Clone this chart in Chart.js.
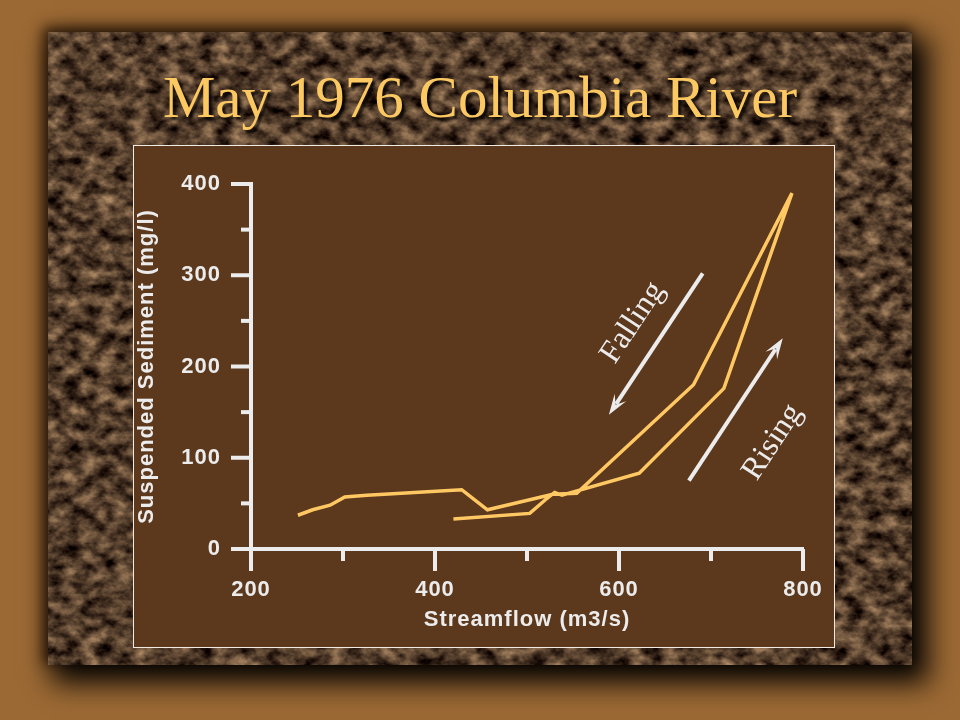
<!DOCTYPE html>
<html lang="en">
<head>
<meta charset="utf-8">
<title>May 1976 Columbia River</title>
<script src="https://cdn.jsdelivr.net/npm/chart.js@4.4.1/dist/chart.umd.min.js"></script>
<style>
  html, body { margin: 0; padding: 0; }
  body {
    width: 960px; height: 720px; position: relative; overflow: hidden;
    background: #9b6934;
  }
  #marble {
    position: absolute; left: 48px; top: 32px; width: 864px; height: 633px;
    background-color: #4c3523;
    box-shadow: 10px 12px 26px 6px rgba(0,0,0,0.95), -3px -3px 12px 2px rgba(40,20,5,0.8);
  }
  #title {
    position: absolute; left: 0; width: 960px; top: 68px; text-align: center;
    font-family: "Liberation Serif", "Times New Roman", serif; font-size: 59px;
    color: #fcc862; text-shadow: 3px 3px 3px rgba(0,0,0,0.9);
    line-height: 1; white-space: nowrap;
  }
  #panel {
    position: absolute; left: 133px; top: 145px; width: 700px; height: 501px;
    border: 1px solid #f2ebe3; background: #5c381d;
  }
</style>
</head>
<body>
<div id="marble"></div>
<div id="title">May 1976 Columbia River</div>
<div id="panel"><canvas id="grafico" width="700" height="501"></canvas></div>
<script>
// Datos (caudal y sedimento, en orden cronologico)
const flow     = [420, 503, 520, 530, 538, 622, 714, 788, 681, 554, 528, 457, 429, 326, 302, 286, 267, 251];
const sediment = [ 33,  39,  54,  62,  59,  83, 176, 390, 180,  61,  60,  43,  65,  59,  57,  48,  43,  37];

const xTicks  = [200, 300, 400, 500, 600, 700, 800];
const xLabels = ['200', '', '400', '', '600', '', '800'];
const yTicks  = [0, 50, 100, 150, 200, 250, 300, 350, 400];
const yLabels = ['0', '', '100', '', '200', '', '300', '', '400'];

// textura de marmol (filtro SVG, sin datos)
const svg = "<svg xmlns='http://www.w3.org/2000/svg' width='864' height='633'>" +
  "<filter id='n' color-interpolation-filters='sRGB'><feTurbulence type='fractalNoise' baseFrequency='0.06 0.08' numOctaves='4' seed='7'/>" +
  "<feColorMatrix values='0.95 0 0 0 -0.15  0.8 0 0 0 -0.16  0.6 0 0 0 -0.13  0 0 0 0 1'/></filter>" +
  "<rect width='100%' height='100%' filter='url(%23n)'/></svg>";
document.getElementById('marble').style.backgroundImage = 'url("data:image/svg+xml;utf8,' + svg + '")';

const blanco = '#ececec';
const fuenteEjes = { family: "'Liberation Sans', Arial, sans-serif", weight: 'bold', size: 22 };

// marcas de los ejes (largas con etiqueta, cortas sin ella)
const marcasEjes = {
    id: 'marcasEjes',
    beforeDraw(chart) {
        chart.ctx.letterSpacing = '1px';
    },
    afterDraw(chart) {
        const { ctx, scales: { x, y } } = chart;
        ctx.save();
        ctx.strokeStyle = blanco;
        ctx.lineWidth = 4;
        xTicks.forEach((v, i) => {
            const px = x.getPixelForValue(v);
            const len = xLabels[i] ? 22 : 12;
            ctx.beginPath();
            ctx.moveTo(px, y.bottom);
            ctx.lineTo(px, y.bottom + len);
            ctx.stroke();
        });
        yTicks.forEach((v, i) => {
            const py = y.getPixelForValue(v);
            const len = yLabels[i] ? 20 : 10;
            ctx.beginPath();
            ctx.moveTo(x.left, py);
            ctx.lineTo(x.left - len, py);
            ctx.stroke();
        });
        ctx.restore();
    }
};

// flechas y textos "Falling" / "Rising" en coordenadas de datos
const anotaciones = [
    { from: [691, 302], to: [589, 147], text: 'Falling', at: [615, 248] },
    { from: [676, 75],  to: [778, 231], text: 'Rising',  at: [767, 117] }
];

const flechas = {
    id: 'flechas',
    afterDatasetsDraw(chart) {
        const { ctx, scales: { x, y } } = chart;
        ctx.save();
        ctx.strokeStyle = blanco;
        ctx.fillStyle = blanco;
        ctx.lineWidth = 4;
        anotaciones.forEach(a => {
            const x1 = x.getPixelForValue(a.from[0]), y1 = y.getPixelForValue(a.from[1]);
            const x2 = x.getPixelForValue(a.to[0]),   y2 = y.getPixelForValue(a.to[1]);
            const ang = Math.atan2(y2 - y1, x2 - x1);
            const head = 22;
            ctx.beginPath();
            ctx.moveTo(x1, y1);
            ctx.lineTo(x2 - Math.cos(ang) * head * 0.6, y2 - Math.sin(ang) * head * 0.6);
            ctx.stroke();
            ctx.beginPath();
            ctx.moveTo(x2, y2);
            ctx.lineTo(x2 - Math.cos(ang - 0.32) * head, y2 - Math.sin(ang - 0.32) * head);
            ctx.lineTo(x2 - Math.cos(ang) * head * 0.55, y2 - Math.sin(ang) * head * 0.55);
            ctx.lineTo(x2 - Math.cos(ang + 0.32) * head, y2 - Math.sin(ang + 0.32) * head);
            ctx.closePath();
            ctx.fill();

            // texto paralelo a la flecha, leyendo hacia arriba
            let rot = ang;
            if (Math.cos(rot) < 0) rot += Math.PI;
            ctx.save();
            ctx.translate(x.getPixelForValue(a.at[0]), y.getPixelForValue(a.at[1]));
            ctx.rotate(rot);
            ctx.letterSpacing = '0px';
            ctx.font = "32px 'Liberation Serif', 'Times New Roman', serif";
            ctx.textAlign = 'center';
            ctx.textBaseline = 'middle';
            ctx.fillText(a.text, 0, 0);
            ctx.restore();
        });
        ctx.restore();
    }
};

const ctx = document.getElementById('grafico');

// rejilla invisible: solo sirve para separar las etiquetas del eje
const rejilla = (largo) => ({ display: true, drawOnChartArea: false, drawTicks: true, tickLength: largo, color: 'rgba(0,0,0,0)' });

new Chart(ctx, {
    type: 'scatter',
    data: {
        datasets: [{
            label: 'Columbia River',
            data: flow.map((f, i) => ({ x: f, y: sediment[i] })),
            showLine: true,
            borderColor: '#ffc862',
            borderWidth: 3.5,
            pointRadius: 0,
            fill: false,
            tension: 0
        }]
    },
    options: {
        responsive: false,
        animation: false,
        devicePixelRatio: 1,
        layout: { padding: { left: 0, top: 38, right: 31, bottom: 0 } },
        plugins: {
            legend: { display: false },
            tooltip: { enabled: false }
        },
        scales: {
            x: {
                type: 'linear',
                min: 200, max: 800,
                afterBuildTicks: s => { s.ticks = xTicks.map(v => ({ value: v })); },
                afterFit: s => { s.height = 98; },
                ticks: {
                    color: blanco,
                    font: fuenteEjes,
                    padding: 4,
                    maxRotation: 0,
                    autoSkip: false,
                    callback: v => xLabels[xTicks.indexOf(v)]
                },
                grid: rejilla(24),
                border: { display: true, color: blanco, width: 4 },
                title: {
                    display: true,
                    text: 'Streamflow (m3/s)',
                    color: blanco,
                    font: fuenteEjes,
                    padding: { top: 0, bottom: 14 }
                }
            },
            y: {
                type: 'linear',
                min: 0, max: 400,
                afterBuildTicks: s => { s.ticks = yTicks.map(v => ({ value: v })); },
                afterFit: s => { s.width = 117; },
                ticks: {
                    color: blanco,
                    font: fuenteEjes,
                    padding: 4,
                    autoSkip: false,
                    callback: v => yLabels[yTicks.indexOf(v)]
                },
                grid: rejilla(26),
                border: { display: true, color: blanco, width: 4 },
                title: {
                    display: true,
                    text: 'Suspended Sediment (mg/l)',
                    color: blanco,
                    font: fuenteEjes,
                    padding: { top: 0, bottom: 0 }
                }
            }
        }
    },
    plugins: [marcasEjes, flechas]
});
</script>
</body>
</html>
